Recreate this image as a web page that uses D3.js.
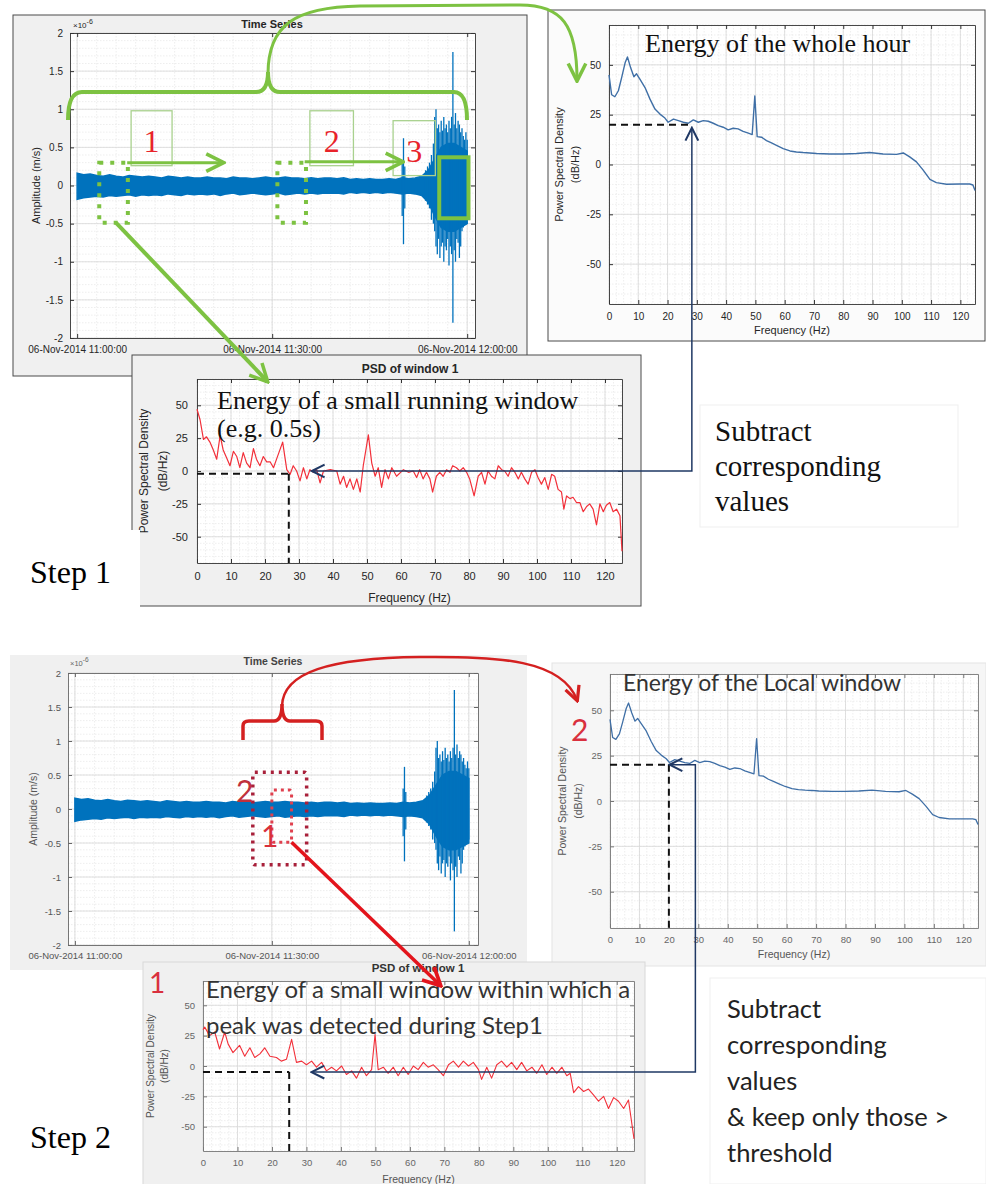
<!DOCTYPE html>
<html>
<head>
<meta charset="utf-8">
<script src="https://cdn.jsdelivr.net/npm/d3@7"></script>
<style>
  body { margin: 0; background: #fff; }
  #chart-container { width: 986px; height: 1184px; }
</style>
</head>
<body>
<div id="chart-container"></div>
<script>
const containerWidth = 986;
const containerHeight = 1184;

// ---- time series (minutes after 11:00, amplitude in 1e-6 m/s) ----
const tsMinutes = d3.range(0, 61);
const tsUpper = [
  0.16, 0.14, 0.15, 0.13, 0.12, 0.14, 0.12, 0.11, 0.13, 0.12,
  0.11, 0.12, 0.11, 0.10, 0.12, 0.11, 0.10, 0.11, 0.10, 0.10,
  0.11, 0.10, 0.10, 0.09, 0.11, 0.10, 0.10, 0.09, 0.10, 0.11,
  0.10, 0.10, 0.11, 0.10, 0.10, 0.09, 0.10, 0.09, 0.10, 0.10,
  0.09, 0.10, 0.08, 0.09, 0.08, 0.09, 0.08, 0.08, 0.09, 0.08,
  0.10, 0.09, 0.10, 0.12, 0.20, 0.35, 0.50, 0.55, 0.55, 0.50,
  0.45
];
const tsLower = [
  -0.18, -0.16, -0.15, -0.14, -0.15, -0.13, -0.14, -0.13, -0.12, -0.14,
  -0.12, -0.13, -0.12, -0.13, -0.11, -0.12, -0.13, -0.11, -0.12, -0.11,
  -0.12, -0.11, -0.13, -0.11, -0.10, -0.12, -0.11, -0.10, -0.11, -0.12,
  -0.11, -0.10, -0.12, -0.11, -0.10, -0.11, -0.10, -0.11, -0.10, -0.10,
  -0.10, -0.11, -0.09, -0.10, -0.09, -0.10, -0.09, -0.10, -0.09, -0.10,
  -0.11, -0.10, -0.11, -0.13, -0.22, -0.40, -0.55, -0.60, -0.60, -0.55,
  -0.50
];
// short bursts / spikes
const burstMinutes = [50.0, 50.2, 50.4, 53.6, 53.9, 54.2, 54.5, 54.8,
  55.0, 55.2, 55.4, 55.6, 55.8, 56.0, 56.2, 56.4, 56.6, 56.8,
  57.0, 57.2, 57.4, 57.6, 57.8, 58.0, 58.2, 58.4, 58.6, 58.8,
  59.0, 59.2, 59.4, 59.6, 59.8, 60.0];
const burstUpper = [0.3, 0.62, 0.25, 0.2, 0.25, 0.3, 0.4, 0.55,
  0.9, 1.0, 0.75, 0.8, 0.7, 0.85, 0.72, 0.9, 0.75, 0.8,
  0.7, 0.85, 0.75, 0.9, 1.75, 0.8, 0.95, 0.75, 0.85, 0.8,
  0.7, 0.75, 0.65, 0.6, 0.7, 0.6];
const burstLower = [-0.4, -0.77, -0.3, -0.2, -0.25, -0.3, -0.45, -0.5,
  -0.6, -0.8, -0.9, -0.7, -0.95, -0.8, -0.75, -1.0, -0.8, -0.85,
  -0.7, -1.05, -0.8, -0.9, -1.8, -0.85, -1.0, -0.7, -0.75, -0.95,
  -0.8, -0.6, -0.55, -0.5, -0.4, -0.45];
const tsTickMinutes = [0, 30, 60];
const tsTickLabels = ["06-Nov-2014 11:00:00", "06-Nov-2014 11:30:00", "06-Nov-2014 12:00:00"];
const ampTicks = [-2, -1.5, -1, -0.5, 0, 0.5, 1, 1.5, 2];

// ---- PSD of the whole hour (blue) ----
const hourFreq = [0, 0.9, 2, 3.2, 4.3, 5.5, 6.3, 7.4, 8.5, 9.4,
  10.6, 12.3, 14, 15.7, 17.4, 19.1, 20.2, 22, 23.7, 25.4,
  27.1, 28.8, 30.5, 32.2, 33.9, 35.6, 37.3, 39, 40.7, 42.4,
  44.1, 45.8, 47.6, 48.9, 49.8, 50.6, 52.1, 53.8, 55.5, 57.2,
  59.5, 61.8, 64, 66.3, 68.6, 70.9, 75.4, 80, 84.5, 89,
  93.6, 98.2, 100.5, 102.7, 105, 107.3, 109.6, 111.8, 115.3, 119.8,
  123.2, 124.3, 125];
const hourDb = [45, 35, 34, 37, 43.5, 51, 54, 48.5, 44, 45.5,
  42.7, 38.6, 32.8, 27.8, 25.3, 23.3, 21.2, 22.8, 22, 21.2,
  20.7, 22.4, 21.2, 22, 21.7, 20.7, 19.5, 18.7, 17.4, 18.2,
  17.9, 16.6, 15.7, 15, 34.4, 14, 13.7, 12, 10.8, 9.6,
  8, 6.8, 6.3, 6, 5.8, 5.5, 5.3, 5.3, 5.5, 6,
  5.3, 5.1, 5.8, 3.8, 1.3, -2.8, -7.5, -9.1, -9.9, -9.8,
  -9.8, -10.3, -13];

// ---- PSD of window 1, step 1 (red), [Hz, dB/Hz] ----
const win1Psd = [[0,47],[0.9,39],[1.9,24],[2.8,26],[3.8,22],[4.8,16],[5.8,9],[6.8,27],[7.7,16],[8.7,10],
  [9.7,4],[10.7,15],[11.7,11],[12.6,2.5],[13.6,14],[14.6,6],[15.6,2.5],[16.6,17],[17.5,9],[18.5,4],
  [19.5,11],[20.5,7],[21.5,7],[22.5,2.5],[23.4,9],[25.2,22],[26.4,1],[27.4,-2.5],[28.3,4],[29.3,0],
  [30.3,-7.5],[31.3,2.5],[32.3,-6],[33.2,1],[34.2,-1],[35.2,1],[36.2,-9],[37.2,0],[39.2,1],[41.1,0],
  [42.1,-10],[43.1,-4],[44,-12.5],[45,-6],[46,-14],[47,-6],[48,-16],[48.9,4],[50.4,27.5],[51.4,6],
  [52.4,-4],[53.3,2.5],[54.3,-12.5],[55.3,1],[56.3,-6],[57.3,2.5],[58.7,-4],[60.7,1],[62.2,-1],[63.6,0],
  [64.6,-5],[65.5,1],[66.5,-6],[67.5,-1],[68.5,-6],[69.3,-16],[70.4,-4],[71.4,-1],[72.4,-4],[73.4,1],
  [74.4,-1],[75.2,4],[76.3,2.5],[77.3,0],[78.3,2.5],[79.3,-1],[80.2,-6],[81.5,-19],[82.7,-4],[83.7,-1],
  [84.7,-10],[85.6,0],[86.6,-4],[87.6,-6],[88.6,4],[89.6,1],[90.5,0],[91.5,-4],[92.5,2.5],[93.5,-1],
  [94.5,-6],[95.4,-1],[96.4,-6],[97.4,-10],[98.4,-1],[99.4,1],[100.3,-5],[101.3,-10],[102.3,-5],[103.3,-14],
  [104.3,-2.5],[105.2,-4],[106.2,-14],[107.2,-16],[107.9,-29],[108.7,-19],[109.7,-21],[110.6,-20],[111.6,-24],[112.6,-24],
  [113.6,-31],[114.6,-27],[115.5,-25],[116.5,-29],[117.5,-41],[118.5,-25],[119.5,-31],[120.4,-26],[121.4,-24],[122.4,-31],
  [123.4,-29],[124.4,-34],[125,-61]];

// ---- PSD of window 1, step 2 (red), [Hz, dB/Hz] ----
const win2Psd = [[0,30],[0.5,32],[1.9,25],[3.4,28],[4.8,14],[6.3,28],[7.3,18],[8.7,11],[10.6,17],[12.1,8],
  [13.6,15],[15,7],[16.5,10],[17.9,15],[19.4,8],[21.3,7],[22.7,4],[24.2,5.5],[25.7,22],[27.1,3],
  [28.6,4],[30,1],[31.5,4],[32.9,-1],[34.4,3],[35.8,-4],[37.3,-1],[38.7,-4],[40.2,0],[41.6,-7],
  [43.1,-4],[44.5,-10],[46,-1],[47.4,-8],[48.9,-3],[49.9,26],[50.8,-3],[52.3,-1],[53.7,-6],[55.2,-1],
  [56.6,-8],[58.1,-1],[59.5,-7],[61,0],[62.4,-3],[63.9,3],[65.3,-1],[66.8,1],[68.2,-3],[69.7,-8],
  [71.2,1],[72.6,4],[74.1,-1],[75.5,4],[77,0],[78.4,3],[79.9,-3],[80.8,-11],[82.3,-1],[83.7,-10],
  [85.2,1],[86.6,4],[88.1,-1],[89.5,3],[91,-3],[92.4,3],[93.9,-4],[95.4,-1],[96.8,-6],[98.3,1],
  [99.7,-7],[101.2,-1],[102.6,-6],[104.1,-1],[105.5,-8],[106.5,-6],[107.5,-22],[108.9,-17],[110.4,-21],[111.8,-19],
  [113.3,-24],[114.7,-29],[116.2,-25],[117.6,-35],[119.1,-26],[120.5,-29],[122,-35],[123.4,-28],[125,-60]];

const freqTicks = d3.range(0, 121, 10);
const dbTicks = [-50, -25, 0, 25, 50];

// dashed read-off guides: [frequency, level]
const guideHour = [28, 20];
const guideWin1 = [27, -2];
const guideLocal = [20, 20];
const guideWin2 = [25, -5];

const MBLUE = "#0072bd";
const PSDBLUE = "#3f6fa6";
const PSDRED = "#f2303a";
const GREEN = "#7dc242";
const NAVY = "#1f3864";
const SANS = "'Liberation Sans', Arial, sans-serif";
const SERIF = "'Liberation Serif', 'Times New Roman', serif";
const CAL = "Lato, 'Open Sans', sans-serif";

const svg = d3.select("#chart-container")
  .append("svg")
  .attr("width", containerWidth)
  .attr("height", containerHeight);

// arrow heads
const defs = svg.append("defs");
function chevron(id, color, size, sw) {
  defs.append("marker")
    .attr("id", id)
    .attr("viewBox", "0 0 10 10")
    .attr("refX", 8.5).attr("refY", 5)
    .attr("markerUnits", "userSpaceOnUse")
    .attr("markerWidth", size).attr("markerHeight", size)
    .attr("orient", "auto-start-reverse")
    .append("path")
    .attr("d", "M1,1 L9,5 L1,9")
    .attr("fill", "none")
    .attr("stroke", color)
    .attr("stroke-width", sw)
    .attr("stroke-linejoin", "miter");
}
chevron("navyHead", NAVY, 16, 1.3);
chevron("greenHead", GREEN, 22, 1.6);
chevron("redHead", "#e3141c", 22, 1.7);
chevron("redHead2", "#d42020", 18, 1.8);

function box(x, y, w, h, fill, stroke, sw) {
  return svg.append("rect")
    .attr("x", x).attr("y", y).attr("width", w).attr("height", h)
    .attr("fill", fill).attr("stroke", stroke || "none").attr("stroke-width", sw || 1);
}

// MATLAB-like axes: white plot area, minor + major grid, box with inward ticks
function matAxes(x, y, o) {
  const [l, r] = x.range();
  const [b, t] = y.range();
  const g = svg.append("g");
  g.append("rect").attr("x", l).attr("y", t).attr("width", r - l).attr("height", b - t).attr("fill", "#fff");
  g.selectAll(null).data(o.xMinor).join("line")
    .attr("x1", d => x(d)).attr("x2", d => x(d)).attr("y1", t).attr("y2", b)
    .attr("stroke", "#e6e6e6").attr("stroke-width", 0.7).attr("stroke-dasharray", "1.5,1.5");
  g.selectAll(null).data(o.yMinor).join("line")
    .attr("x1", l).attr("x2", r).attr("y1", d => y(d)).attr("y2", d => y(d))
    .attr("stroke", "#e6e6e6").attr("stroke-width", 0.7).attr("stroke-dasharray", "1.5,1.5");
  g.selectAll(null).data(o.xTicks).join("line")
    .attr("x1", d => x(d)).attr("x2", d => x(d)).attr("y1", t).attr("y2", b)
    .attr("stroke", "#d8d8d8").attr("stroke-width", 0.8);
  g.selectAll(null).data(o.yTicks).join("line")
    .attr("x1", l).attr("x2", r).attr("y1", d => y(d)).attr("y2", d => y(d))
    .attr("stroke", "#d8d8d8").attr("stroke-width", 0.8);

  const fx = o.xFormat || (d => d);
  const fy = o.yFormat || (d => d);
  g.append("g").attr("transform", `translate(0,${b})`)
    .call(d3.axisBottom(x).tickValues(o.xTicks).tickFormat(fx).tickSize(-4).tickSizeOuter(0).tickPadding(o.xPad));
  g.append("g").attr("transform", `translate(0,${t})`)
    .call(d3.axisTop(x).tickValues(o.xTicks).tickFormat("").tickSize(-4).tickSizeOuter(0));
  g.append("g").attr("transform", `translate(${l},0)`)
    .call(d3.axisLeft(y).tickValues(o.yTicks).tickFormat(fy).tickSize(-4).tickSizeOuter(0).tickPadding(o.yPad));
  g.append("g").attr("transform", `translate(${r},0)`)
    .call(d3.axisRight(y).tickValues(o.yTicks).tickFormat("").tickSize(-4).tickSizeOuter(0));
  g.selectAll(".domain").attr("stroke", o.axisColor).attr("stroke-width", 0.9);
  g.selectAll(".tick line").attr("stroke", o.axisColor);
  g.selectAll(".tick text").attr("fill", o.textColor).attr("font-size", o.fs).attr("font-family", SANS);
  return g;
}

function label(x, y, txt, o) {
  const t = svg.append("text")
    .attr("x", x).attr("y", y)
    .attr("font-family", o.family || SANS)
    .attr("font-size", o.size)
    .attr("font-weight", o.weight || "normal")
    .attr("fill", o.color || "#262626")
    .attr("text-anchor", o.anchor || "start")
    .text(txt);
  if (o.rotate) {
    t.attr("x", 0).attr("y", 0).attr("dy", "0.35em")
      .attr("transform", `translate(${x},${y}) rotate(-90)`);
  }
  return t;
}

function timeSeries(x, y) {
  const area = d3.area()
    .x(d => x(d[0])).y0(d => y(d[2])).y1(d => y(d[1]));
  svg.append("path")
    .datum(d3.zip(tsMinutes, tsUpper, tsLower))
    .attr("d", area)
    .attr("fill", MBLUE).attr("stroke", MBLUE).attr("stroke-width", 1.5);
  svg.append("g").selectAll("line")
    .data(d3.zip(burstMinutes, burstUpper, burstLower))
    .join("line")
    .attr("x1", d => x(d[0])).attr("x2", d => x(d[0]))
    .attr("y1", d => y(d[1])).attr("y2", d => y(d[2]))
    .attr("stroke", MBLUE).attr("stroke-width", 1.3);
}

function psdLine(x, y, pts, color, sw) {
  svg.append("path")
    .datum(pts)
    .attr("d", d3.line().x(d => x(d[0])).y(d => y(d[1])))
    .attr("fill", "none").attr("stroke", color).attr("stroke-width", sw)
    .attr("stroke-linejoin", "round");
}

function guide(x, y, gd, vertical) {
  const [f, v] = gd;
  const [y0] = y.range();
  svg.append("line")
    .attr("x1", x(0)).attr("x2", x(f)).attr("y1", y(v)).attr("y2", y(v))
    .attr("stroke", "#111").attr("stroke-width", 2).attr("stroke-dasharray", "7,5");
  if (vertical) {
    svg.append("line")
      .attr("x1", x(f)).attr("x2", x(f)).attr("y1", y(v)).attr("y2", y0)
      .attr("stroke", "#111").attr("stroke-width", 2).attr("stroke-dasharray", "7,5");
  }
}

const psdOpts = (fs, xPad, yPad, axisColor, textColor) => ({
  xTicks: freqTicks, yTicks: dbTicks,
  xMinor: d3.range(0, 126, 2.5), yMinor: d3.range(-70, 71, 5),
  fs: fs, xPad: xPad, yPad: yPad, axisColor: axisColor, textColor: textColor
});

// =================== STEP 1 ===================

// ---- A: time series ----
box(13, 15, 514, 361, "#f0f0f0", "#4a4a4a", 1);
const xA = d3.scaleLinear().domain([-1.1, 61.2]).range([70, 475]);
const yA = d3.scaleLinear().domain([-2, 2]).range([338, 33]);
matAxes(xA, yA, {
  xTicks: tsTickMinutes, yTicks: ampTicks,
  xMinor: d3.range(0, 61, 3), yMinor: d3.range(-2, 2.01, 0.1),
  xFormat: (d, i) => tsTickLabels[i], fs: 10, xPad: 8, yPad: 7,
  axisColor: "#333", textColor: "#262626"
});
timeSeries(xA, yA);
label(272, 28, "Time Series", { size: 11, weight: "bold", anchor: "middle" });
label(36, yA(0), "Amplitude (m/s)", { size: 11, anchor: "middle", rotate: true });
label(73, 28, "×10", { size: 8 }).append("tspan").attr("dy", -4).attr("font-size", 7).text("-6");

// ---- B: PSD of the whole hour ----
box(548, 10, 437, 331, "#fbfbfb", "#4a4a4a", 1);
const xB = d3.scaleLinear().domain([0, 125]).range([609, 975]);
const yB = d3.scaleLinear().domain([-70, 70]).range([304, 25]);
matAxes(xB, yB, psdOpts(10, 9, 8, "#333", "#262626"));
psdLine(xB, yB, d3.zip(hourFreq, hourDb), PSDBLUE, 1.4);
guide(xB, yB, guideHour, false);
label(xB(62.5), 334, "Frequency (Hz)", { size: 11, anchor: "middle" });
label(559, yB(0), "Power Spectral Density", { size: 11, anchor: "middle", rotate: true });
label(575, yB(0), "(dB/Hz)", { size: 11, anchor: "middle", rotate: true });
label(645, 52, "Energy of the whole hour", { family: SERIF, size: 26, color: "#111" });

// ---- C: PSD of window 1 ----
box(132, 355, 509, 251, "#f0f0f0", "#4a4a4a", 1);
const xC = d3.scaleLinear().domain([0, 125]).range([197, 622]);
const yC = d3.scaleLinear().domain([-70, 70]).range([563, 379]);
matAxes(xC, yC, psdOpts(11, 9, 9, "#333", "#262626"));
psdLine(xC, yC, win1Psd, PSDRED, 1.2);
guide(xC, yC, guideWin1, true);
label(410, 373, "PSD of window 1", { size: 12, weight: "bold", anchor: "middle" });
label(xC(62.5), 602, "Frequency (Hz)", { size: 12, anchor: "middle" });
label(144, yC(0), "Power Spectral Density", { size: 12, anchor: "middle", rotate: true });
label(163, yC(0), "(dB/Hz)", { size: 12, anchor: "middle", rotate: true });
label(217, 409, "Energy of a small running window", { family: SERIF, size: 26, color: "#111" });
label(217, 437, "(e.g. 0.5s)", { family: SERIF, size: 26, color: "#111" });

// white patch with the step label
box(0, 530, 140, 90, "#fff");
label(30, 583, "Step 1", { family: SERIF, size: 32, color: "#000" });

// subtract note
box(700, 405, 258, 122, "#fff", "#efefef", 1);
["Subtract", "corresponding", "values"].forEach((s, i) =>
  label(715, 441 + i * 35, s, { family: SERIF, size: 29, color: "#111" }));

// navy connector: window PSD <-> hour PSD
svg.append("path")
  .attr("d", d3.line()([[xC(34), yC(0)], [xB(28.3), yC(0)], [xB(28.3), yB(18)]]))
  .attr("fill", "none").attr("stroke", NAVY).attr("stroke-width", 1.5)
  .attr("marker-start", "url(#navyHead)").attr("marker-end", "url(#navyHead)");

// green annotations on the time series
const dotted = (m0, m1, a0, a1) => svg.append("rect")
  .attr("x", xA(m0)).attr("y", yA(a0)).attr("width", xA(m1) - xA(m0)).attr("height", yA(a1) - yA(a0))
  .attr("fill", "none").attr("stroke", GREEN).attr("stroke-width", 4).attr("stroke-dasharray", "4,7");
dotted(3.4, 7.8, 0.3, -0.49);
dotted(30.8, 35.2, 0.3, -0.49);
svg.append("rect")
  .attr("x", xA(55.7)).attr("y", yA(0.37)).attr("width", xA(60.2) - xA(55.7)).attr("height", yA(-0.43) - yA(0.37))
  .attr("fill", "none").attr("stroke", GREEN).attr("stroke-width", 4);

const numBoxes = [[8.3, 14.6, 0.98, 0.26, "1"], [35.8, 42.5, 0.98, 0.26, "2"], [48.6, 55.1, 0.85, 0.13, "3"]];
numBoxes.forEach(d => {
  svg.append("rect")
    .attr("x", xA(d[0])).attr("y", yA(d[2])).attr("width", xA(d[1]) - xA(d[0])).attr("height", yA(d[3]) - yA(d[2]))
    .attr("fill", "none").attr("stroke", "#a9d18e").attr("stroke-width", 1.3);
  label((xA(d[0]) + xA(d[1])) / 2, yA(d[3]) - 14, d[4], { family: SERIF, size: 32, color: "#e8232a", anchor: "middle" });
});

const greenArrow = (pts, w) => svg.append("path")
  .attr("d", d3.line()(pts))
  .attr("fill", "none").attr("stroke", GREEN).attr("stroke-width", w)
  .attr("marker-end", "url(#greenHead)");
greenArrow([[xA(7.7), yA(0.3)], [xA(22.4), yA(0.3)]], 3);
greenArrow([[xA(35), yA(0.31)], [xA(50), yA(0.31)]], 3);
greenArrow([[xA(6), yA(-0.49)], [267, 381]], 4);

// brace over the whole hour, and its link to the hour PSD
svg.append("path")
  .attr("d", "M68,120 Q68,92 82,92 L256,92 Q268,92 268,72 Q268,92 280,92 L454,92 Q467,92 467,120")
  .attr("fill", "none").attr("stroke", GREEN).attr("stroke-width", 4);
svg.append("path")
  .attr("d", "M268,74 C268,25 295,7 360,6 L520,5 C562,5 577,25 577,80")
  .attr("fill", "none").attr("stroke", GREEN).attr("stroke-width", 3)
  .attr("marker-end", "url(#greenHead)");

// =================== STEP 2 ===================

// ---- D: time series ----
box(10, 655, 517, 315, "#f0f0f0");
const xD = d3.scaleLinear().domain([-1.05, 61.4]).range([68, 478]);
const yD = d3.scaleLinear().domain([-2, 2]).range([945, 673]);
matAxes(xD, yD, {
  xTicks: tsTickMinutes, yTicks: ampTicks,
  xMinor: d3.range(0, 61, 3), yMinor: d3.range(-2, 2.01, 0.1),
  xFormat: (d, i) => tsTickLabels[i], fs: 9.5, xPad: 7, yPad: 7,
  axisColor: "#666", textColor: "#555"
});
timeSeries(xD, yD);
label(273, 665, "Time Series", { size: 10.5, weight: "bold", anchor: "middle", color: "#444" });
label(33, yD(0), "Amplitude (m/s)", { size: 10.5, anchor: "middle", rotate: true, color: "#555" });
label(70, 666, "×10", { size: 7.5, color: "#666" }).append("tspan").attr("dy", -4).attr("font-size", 6.5).text("-6");

// red windows
const redDotted = (m0, m1, a0, a1, color, w, dash) => svg.append("rect")
  .attr("x", xD(m0)).attr("y", yD(a0)).attr("width", xD(m1) - xD(m0)).attr("height", yD(a1) - yD(a0))
  .attr("rx", 2).attr("fill", "none").attr("stroke", color).attr("stroke-width", w).attr("stroke-dasharray", dash);
redDotted(27.1, 35.3, 0.54, -0.82, "#a8203a", 3.5, "3,5");
redDotted(30.0, 33.0, 0.28, -0.49, "#e0404e", 3, "3,4");
label(236, 802, "2", { family: CAL, size: 30, color: "#c0303c" });
label(261, 847, "1", { family: CAL, size: 30, color: "#d8303c" });

// brace over the local window
svg.append("path")
  .attr("d", "M243,740 L243,726 Q243,721 249,721 L274,721 Q282,721 282,704 Q282,721 290,721 L316,721 Q322,721 322,726 L322,740")
  .attr("fill", "none").attr("stroke", "#d42020").attr("stroke-width", 3.5);

// ---- E: PSD of the local window ----
box(552, 663, 434, 303, "#f6f6f6", "#e4e4e4", 1);
const xE = d3.scaleLinear().domain([0, 125]).range([610, 978]);
const yE = d3.scaleLinear().domain([-70, 70]).range([928, 674]);
matAxes(xE, yE, psdOpts(9.5, 8, 8, "#777", "#666"));
psdLine(xE, yE, d3.zip(hourFreq, hourDb), PSDBLUE, 1.3);
guide(xE, yE, guideLocal, true);
label(xE(62.5), 958, "Frequency (Hz)", { size: 10.5, anchor: "middle", color: "#555" });
label(562, yE(0), "Power Spectral Density", { size: 10.5, anchor: "middle", rotate: true, color: "#555" });
label(578, yE(0), "(dB/Hz)", { size: 10.5, anchor: "middle", rotate: true, color: "#555" });
label(623, 691, "Energy of the Local window", { family: CAL, size: 23, color: "#333" });
label(571, 741, "2", { family: CAL, size: 30, color: "#d9303e" });

// red link from the brace to the local PSD (drawn over panel E)
svg.append("path")
  .attr("d", "M282,706 C283,672 330,658 420,657 C500,656 562,660 577,700")
  .attr("fill", "none").attr("stroke", "#d42020").attr("stroke-width", 2.5)
  .attr("marker-end", "url(#redHead2)");

// ---- F: PSD of window 1 (step 2) ----
box(143, 962, 502, 230, "#f0f0f0", "#d8d8d8", 1);
const xF = d3.scaleLinear().domain([0, 125]).range([203, 634]);
const yF = d3.scaleLinear().domain([-70, 70]).range([1151, 981]);
matAxes(xF, yF, psdOpts(9.5, 8, 8, "#777", "#666"));
psdLine(xF, yF, win2Psd, PSDRED, 1.1);
guide(xF, yF, guideWin2, true);
label(418, 972, "PSD of window 1", { size: 11.5, weight: "bold", anchor: "middle", color: "#333" });
label(xF(62.5), 1183, "Frequency (Hz)", { size: 10.5, anchor: "middle", color: "#555" });
label(150, yF(0), "Power Spectral Density", { size: 10, anchor: "middle", rotate: true, color: "#555" });
label(164, yF(0), "(dB/Hz)", { size: 10, anchor: "middle", rotate: true, color: "#555" });
label(206, 998, "Energy of a small window within which a", { family: CAL, size: 24, color: "#333" });
label(206, 1034, "peak was detected during Step1", { family: CAL, size: 24, color: "#333" });
label(149, 993, "1", { family: CAL, size: 28, color: "#d9303e" });

// red arrow from the small window to its PSD
svg.append("path")
  .attr("d", d3.line()([[xD(33), yD(-0.49)], [440, 985]]))
  .attr("fill", "none").attr("stroke", "#e3141c").attr("stroke-width", 3.5)
  .attr("marker-end", "url(#redHead)");

// navy connector: window PSD <-> local PSD
svg.append("path")
  .attr("d", d3.line()([[xF(31.7), yF(-5)], [xE(29), yF(-5)], [xE(29), yE(20)], [xE(20.5), yE(20)]]))
  .attr("fill", "none").attr("stroke", NAVY).attr("stroke-width", 1.5)
  .attr("marker-start", "url(#navyHead)").attr("marker-end", "url(#navyHead)");

// step label and note
label(30, 1148, "Step 2", { family: SERIF, size: 32, color: "#000" });
box(710, 978, 276, 206, "#fff", "#efefef", 1);
["Subtract", "corresponding", "values", "& keep only those >", "threshold"].forEach((s, i) =>
  label(727, 1018 + i * 36, s, { family: CAL, size: 25.5, color: "#222" }));
</script>
</body>
</html>
